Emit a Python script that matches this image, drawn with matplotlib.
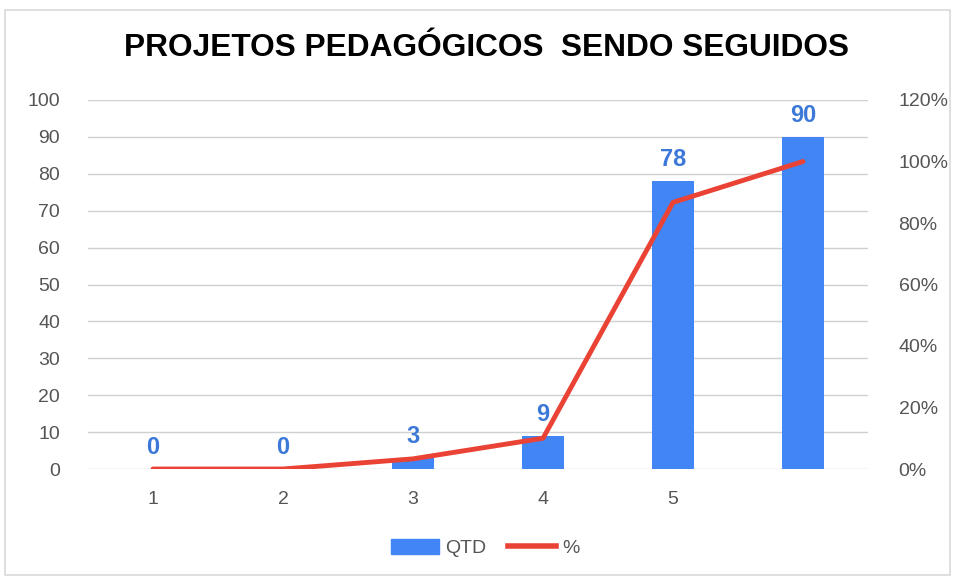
import matplotlib
matplotlib.use("Agg")
import matplotlib.pyplot as plt
from matplotlib.patches import Rectangle, Patch
from matplotlib.lines import Line2D
from matplotlib.ticker import FuncFormatter

categories = ["1", "2", "3", "4", "5", ""]
qtd = [0, 0, 3, 9, 78, 90]
pct = [0.0, 0.0, 0.033, 0.10, 0.867, 1.0]
left_ticks = list(range(0, 101, 10))
right_ticks = [0, 0.2, 0.4, 0.6, 0.8, 1.0, 1.2]

BAR = "#4285f4"
LINE = "#ea4335"
LABEL = "#3c78d8"
TICK = "#555555"

plt.rcParams['font.family'] = ['Liberation Sans', 'DejaVu Sans']

fig = plt.figure(figsize=(9.56, 5.79), dpi=100)
fig.patches.append(Rectangle((5/956, 4/579), 945/956, 565/579, transform=fig.transFigure,
                             fill=False, edgecolor="#d9d9d9", linewidth=1.2))
ax = fig.add_axes([88/956, 1-469/579, 780/956, 369/579])
x = list(range(len(categories)))
ax.bar(x, qtd, width=0.32, color=BAR, zorder=2)
ax.set_xlim(-0.5, 5.5)
ax.set_ylim(0, 100)
ax.set_yticks(left_ticks)
ax.set_xticks(x)
ax.set_xticklabels(categories)
ax.grid(axis='y', color="#d0d0d0", linewidth=1, zorder=0)
for s in ax.spines.values():
    s.set_visible(False)
ax.tick_params(axis='both', length=0, labelsize=14, labelcolor=TICK)
ax.tick_params(axis='x', pad=16)
ax.tick_params(axis='y', pad=20)
for xi, v in zip(x, qtd):
    ax.annotate(str(v), (xi, v), xytext=(0, 7), textcoords='offset points',
                ha='center', va='bottom', fontsize=17, fontweight='bold', color=LABEL)

ax2 = ax.twinx()
ax2.plot(x, pct, color=LINE, linewidth=3.5, zorder=3, solid_capstyle='round')
ax2.set_ylim(0, 1.2)
ax2.set_yticks(right_ticks)
ax2.yaxis.set_major_formatter(FuncFormatter(lambda v, p: f"{int(round(v*100))}%"))
for s in ax2.spines.values():
    s.set_visible(False)
ax2.tick_params(axis='y', length=0, labelsize=14, labelcolor=TICK, pad=22)

fig.text(487/956, 1-48/579, "PROJETOS PEDAGÓGICOS  SENDO SEGUIDOS", ha='center', va='center',
         fontsize=22.8, fontweight='bold', color='black')

handles = [Patch(color=BAR), Line2D([0], [0], color=LINE, linewidth=4)]
fig.legend(handles, ["QTD", "%"], loc='center', bbox_to_anchor=(0.5 + 7/956, 1-548/579), ncol=2,
           frameon=False, fontsize=14, handlelength=2.5, handleheight=0.8,
           columnspacing=1.1, handletextpad=0.3, labelcolor=TICK)

fig.savefig("out.png", dpi=100)
